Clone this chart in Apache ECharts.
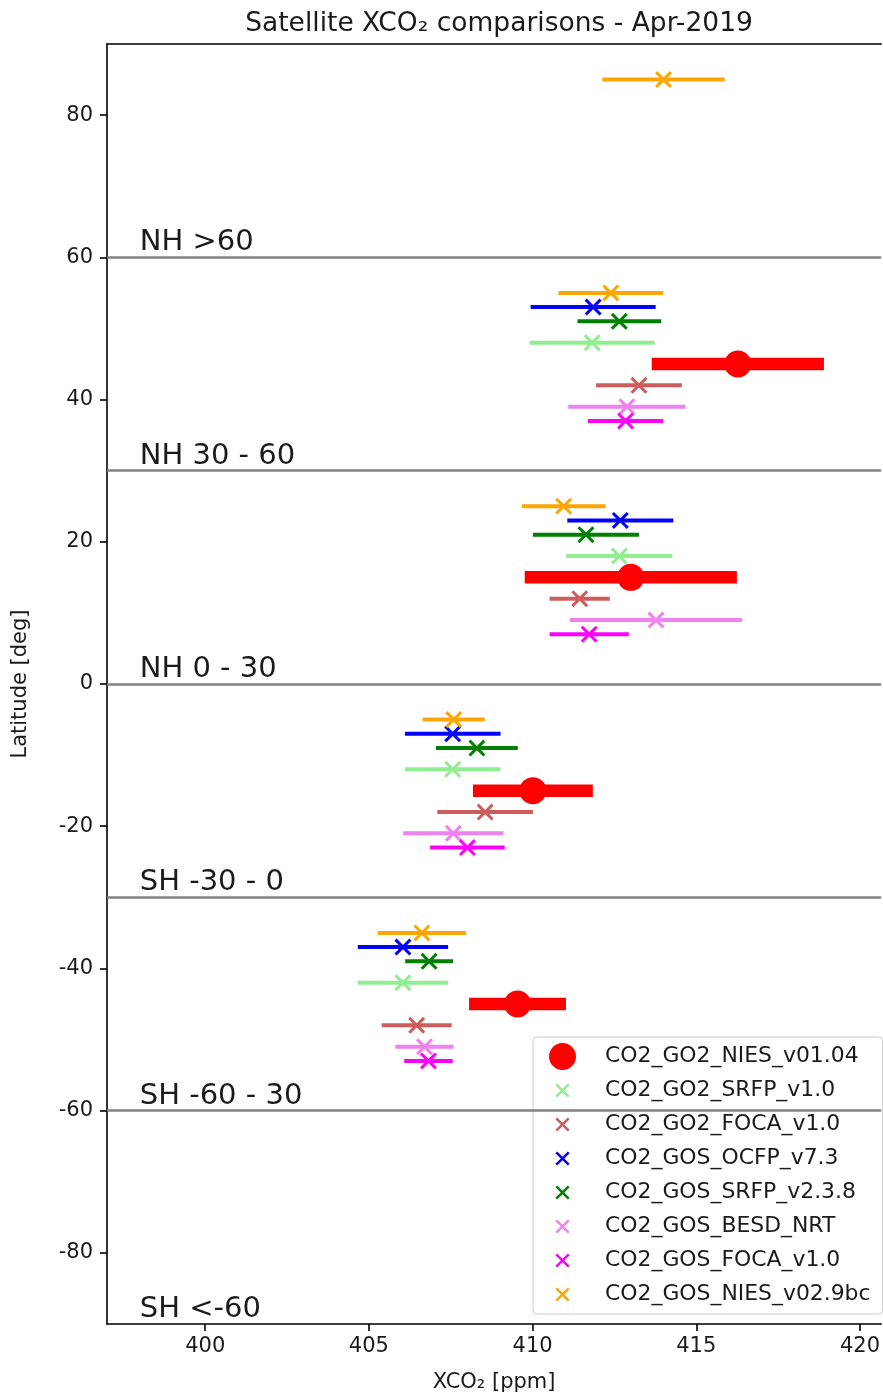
<!DOCTYPE html>
<html>
<head>
<meta charset="utf-8">
<script src="https://cdn.jsdelivr.net/npm/echarts@6/dist/echarts.min.js"></script>
<style>
html,body{margin:0;padding:0;background:#ffffff;}
#chart{width:883px;height:1398px;}
</style>
</head>
<body>
<div id="chart"></div>
<script>
// ---------------- data ----------------
const productNames = [
  'CO2_GO2_NIES_v01.04',
  'CO2_GO2_SRFP_v1.0',
  'CO2_GO2_FOCA_v1.0',
  'CO2_GOS_OCFP_v7.3',
  'CO2_GOS_SRFP_v2.3.8',
  'CO2_GOS_BESD_NRT',
  'CO2_GOS_FOCA_v1.0',
  'CO2_GOS_NIES_v02.9bc'
];

// latitude (deg), mean XCO2 (ppm), half error-bar width (ppm)
const lat_GO2_NIES  = [45, 15, -15, -45];
const xco2_GO2_NIES = [416.27, 413.0, 410.01, 409.54];
const err_GO2_NIES  = [2.63, 3.24, 1.83, 1.48];

const lat_GO2_SRFP  = [48, 18, -12, -42];
const xco2_GO2_SRFP = [411.82, 412.65, 407.56, 406.04];
const err_GO2_SRFP  = [1.91, 1.62, 1.46, 1.38];

const lat_GO2_FOCA  = [42, 12, -18, -48];
const xco2_GO2_FOCA = [413.25, 411.44, 408.55, 406.46];
const err_GO2_FOCA  = [1.31, 0.92, 1.46, 1.07];

const lat_GOS_OCFP  = [53, 23, -7, -37];
const xco2_GOS_OCFP = [411.85, 412.68, 407.56, 406.04];
const err_GOS_OCFP  = [1.91, 1.62, 1.46, 1.38];

const lat_GOS_SRFP  = [51, 21, -9, -39];
const xco2_GOS_SRFP = [412.65, 411.63, 408.3, 406.84];
const err_GOS_SRFP  = [1.28, 1.62, 1.25, 0.73];

const lat_GOS_BESD  = [39, 9, -21, -51];
const xco2_GOS_BESD = [412.88, 413.77, 407.58, 406.7];
const err_GOS_BESD  = [1.79, 2.63, 1.53, 0.89];

const lat_GOS_FOCA  = [37, 7, -23, -53];
const xco2_GOS_FOCA = [412.84, 411.73, 408.01, 406.82];
const err_GOS_FOCA  = [1.15, 1.21, 1.14, 0.74];

const lat_GOS_NIES  = [85, 55, 25, -5, -35];
const xco2_GOS_NIES = [414.0, 412.39, 410.95, 407.59, 406.62];
const err_GOS_NIES  = [1.87, 1.6, 1.28, 0.95, 1.35];

const regionNames = ['NH >60', 'NH 30 - 60', 'NH 0 - 30', 'SH -30 - 0', 'SH -60 - 30', 'SH <-60'];
const regionLat   = [60, 30, 0, -30, -60, -90];
const regionLabelX = 398;
const boundaryLat = [60, 30, 0, -30, -60];

const xTicks = [400, 405, 410, 415, 420];
const yTicks = [-80, -60, -40, -20, 0, 20, 40, 60, 80];

// ---------------- styles ----------------
const productColors = ['#ff0000', '#90ee90', '#cd5c5c', '#0000ff', '#008000', '#ee82ee', '#ff00ff', '#ffa500'];
const FONT = 'DejaVu Sans';
const TXT = '#1a1a1a';

const productLat  = [lat_GO2_NIES, lat_GO2_SRFP, lat_GO2_FOCA, lat_GOS_OCFP, lat_GOS_SRFP, lat_GOS_BESD, lat_GOS_FOCA, lat_GOS_NIES];
const productXco2 = [xco2_GO2_NIES, xco2_GO2_SRFP, xco2_GO2_FOCA, xco2_GOS_OCFP, xco2_GOS_SRFP, xco2_GOS_BESD, xco2_GOS_FOCA, xco2_GOS_NIES];
const productErr  = [err_GO2_NIES, err_GO2_SRFP, err_GO2_FOCA, err_GOS_OCFP, err_GOS_SRFP, err_GOS_BESD, err_GOS_FOCA, err_GOS_NIES];

// filled "x" marker shape
const d = 1.25;
const xShape = 'M0,' + d + 'L' + d + ',0L5,' + (5 - d) + 'L' + (10 - d) + ',0L10,' + d + 'L' + (5 + d) + ',5L10,' + (10 - d) +
  'L' + (10 - d) + ',10L5,' + (5 + d) + 'L' + d + ',10L0,' + (10 - d) + 'L' + (5 - d) + ',5Z';
const xSymbol = 'path://' + xShape;
// same shape padded (for the legend icon box)
const xLegendIcon = 'path://' + xShape + 'M-4.5,-4.5L-4.49,-4.5ZM14.5,14.5L14.49,14.5Z';

const series = [];
productNames.forEach((name, i) => {
  const pts = productXco2[i].map((x, k) => [x, productLat[i][k], productErr[i][k]]);
  const isMain = i === 0;
  series.push({
    name: name,
    type: 'scatter',
    z: 3,
    symbol: isMain ? 'circle' : xSymbol,
    symbolSize: isMain ? 27 : 17,
    itemStyle: { color: productColors[i], opacity: 1 },
    data: pts.map(p => [p[0], p[1]]),
    silent: true
  });
  series.push({
    name: name,
    type: 'custom',
    z: 2,
    itemStyle: { color: productColors[i] },
    encode: { x: 0, y: 1 },
    data: pts,
    silent: true,
    renderItem: (params, api) => {
      const x = api.value(0), y = api.value(1), e = api.value(2);
      const lo = api.coord([x - e, y]);
      const hi = api.coord([x + e, y]);
      return {
        type: 'line',
        shape: { x1: lo[0], y1: lo[1], x2: hi[0], y2: hi[1] },
        style: { stroke: productColors[i], lineWidth: isMain ? 12.5 : 4, lineCap: 'butt' }
      };
    }
  });
});

// region boundaries and labels
series.push({
  name: 'regions',
  type: 'scatter',
  z: 10,
  symbolSize: 0,
  silent: true,
  itemStyle: { opacity: 1, color: TXT },
  data: regionNames.map((n, k) => ({ name: n, value: [regionLabelX, regionLat[k]] })),
  label: {
    show: true,
    position: [0, 0],
    align: 'left',
    verticalAlign: 'bottom',
    formatter: '{b}',
    fontFamily: FONT,
    fontSize: 29,
    color: TXT,
    opacity: 1
  },
  markLine: {
    symbol: 'none',
    silent: true,
    z: 10,
    label: { show: false },
    lineStyle: { color: '#808080', width: 2.5, type: 'solid', opacity: 1 },
    data: boundaryLat.map(v => ({ yAxis: v }))
  }
});

const axisLineStyle = { color: '#000', width: 1.6 };

const chart = echarts.init(document.getElementById('chart'), null, { renderer: 'canvas' });
chart.setOption({
  backgroundColor: '#ffffff',
  animation: false,
  title: {
    text: 'Satellite XCO\u2082 comparisons - Apr-2019',
    left: 494,
    textAlign: 'center',
    top: 6,
    textStyle: { fontFamily: FONT, fontSize: 26.5, fontWeight: 'normal', color: TXT }
  },
  grid: {
    left: 107, right: 0, top: 44, bottom: 73,
    show: false
  },
  legend: {
    orient: 'vertical',
    left: 533,
    top: 1037,
    padding: [6, 12, 6, 16],
    itemWidth: 27,
    itemHeight: 27,
    itemGap: 7,
    backgroundColor: 'rgba(255,255,255,0.8)',
    borderColor: '#cccccc',
    borderWidth: 1,
    borderRadius: 4,
    selectedMode: false,
    textStyle: { fontFamily: FONT, fontSize: 21.9, color: TXT, padding: [0, 0, 0, 24] },
    data: productNames.map((n, i) => ({ name: n, icon: i === 0 ? 'circle' : xLegendIcon }))
  },
  xAxis: [{
    type: 'value',
    position: 'bottom',
    min: 397,
    max: 420.65,
    name: 'XCO\u2082 [ppm]',
    nameLocation: 'middle',
    nameGap: 48,
    nameTextStyle: { fontFamily: FONT, fontSize: 21, color: TXT },
    axisLine: { show: true, onZero: false, lineStyle: axisLineStyle },
    axisTick: { show: true, length: 7, inside: false, customValues: xTicks, lineStyle: axisLineStyle },
    axisLabel: { customValues: xTicks, margin: 12, fontFamily: FONT, fontSize: 21, color: TXT },
    splitLine: { show: false }
  }, {
    type: 'value',
    position: 'top',
    min: 397,
    max: 420.65,
    axisLine: { show: true, onZero: false, lineStyle: axisLineStyle },
    axisTick: { show: false },
    axisLabel: { show: false },
    splitLine: { show: false }
  }],
  yAxis: {
    type: 'value',
    min: -90,
    max: 90,
    name: 'Latitude [deg]',
    nameLocation: 'middle',
    nameGap: 76,
    nameRotate: 90,
    nameTextStyle: { fontFamily: FONT, fontSize: 21, color: TXT },
    axisLine: { show: true, onZero: false, lineStyle: axisLineStyle },
    axisTick: { show: true, length: 7, inside: false, customValues: yTicks, lineStyle: axisLineStyle },
    axisLabel: { customValues: yTicks, margin: 14, fontFamily: FONT, fontSize: 21, color: TXT },
    splitLine: { show: false }
  },
  series: series
});
</script>
</body>
</html>
